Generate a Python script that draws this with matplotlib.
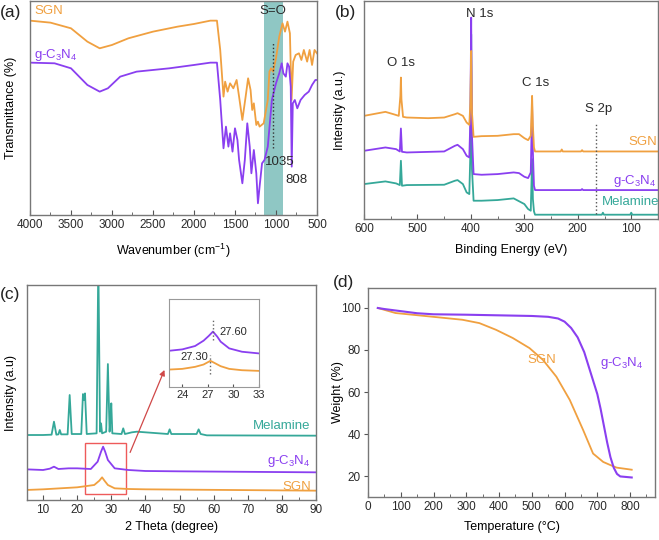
import matplotlib
matplotlib.use('Agg')
import matplotlib.pyplot as plt
from matplotlib.ticker import MultipleLocator

plt.rcParams['font.family'] = ['Liberation Sans', 'DejaVu Sans']
plt.rcParams['mathtext.fontset'] = 'custom'
plt.rcParams['mathtext.rm'] = 'Liberation Sans'
plt.rcParams['font.size'] = 8.5
plt.rcParams['text.color'] = '#2a2a2a'
plt.rcParams['axes.edgecolor'] = '#777777'
plt.rcParams['xtick.color'] = '#555555'
plt.rcParams['ytick.color'] = '#555555'
plt.rcParams['xtick.labelcolor'] = '#2a2a2a'
plt.rcParams['ytick.labelcolor'] = '#2a2a2a'

ORANGE = '#f0a040'
PURPLE = '#8a3ff0'
TEAL = '#35a899'
GCN = r'g-C$\mathregular{_3}$N$\mathregular{_4}$'
LW = 1.3

# (a) FTIR, arbitrary transmittance units
ftir_wn_sgn = [4000, 3750, 3500, 3300, 3150, 3000, 2800, 2500, 2200, 2000,
               1800, 1720, 1680, 1640, 1620, 1590, 1560, 1520, 1480, 1450,
               1410, 1370, 1340, 1310, 1290, 1270, 1240, 1220, 1200, 1150,
               1100, 1080, 1060, 1035, 1000, 960, 920, 890, 860, 830,
               810, 790, 760, 720, 690, 660, 620, 590, 560, 530, 500]
ftir_sgn = [583, 577, 560, 520, 500, 510, 530, 550, 565, 573,
            583, 583, 495, 355, 400, 370, 395, 380, 405, 355,
            285, 355, 410, 375, 315, 335, 270, 280, 265, 275,
            345, 430, 440, 430, 470, 535, 575, 550, 580, 545,
            345, 460, 480, 485, 465, 495, 460, 495, 450, 495, 485]
ftir_wn_gcn = [4000, 3700, 3500, 3300, 3150, 3050, 2900, 2700, 2500, 2300,
               2000, 1800, 1720, 1680, 1640, 1610, 1580, 1560, 1530, 1500,
               1470, 1450, 1410, 1380, 1350, 1320, 1300, 1270, 1240, 1220,
               1200, 1170, 1140, 1100, 1050, 1000, 960, 930, 910, 880,
               860, 840, 820, 808, 795, 770, 740, 700, 650, 600, 560, 520, 500]
ftir_gcn = [457, 455, 440, 390, 370, 380, 415, 430, 435, 440,
            450, 457, 457, 345, 200, 265, 205, 245, 190, 260,
            225, 165, 95, 165, 275, 205, 125, 195, 125, 35,
            85, 155, 165, 205, 345, 395, 425, 455, 425, 415,
            455, 445, 385, 145, 335, 345, 320, 345, 360, 370, 390, 405, 405]

# (b) XPS survey
xps_be_sgn = [600, 560, 545, 535, 532, 531, 530, 527, 520, 480,
              450, 430, 425, 415, 408, 403, 401, 399.5, 398, 395,
              380, 350, 320, 310, 300, 293, 288, 285.5, 284, 282,
              280, 232, 230, 228, 194, 192, 190, 50]
xps_sgn = [310, 322, 315, 310, 370, 425, 360, 307, 305, 303,
           305, 315, 318, 310, 290, 283, 350, 505, 320, 247,
           249, 250, 255, 255, 243, 237, 250, 370, 280, 215,
           203, 203, 209, 203, 203, 207, 203, 203]
xps_be_gcn = [600, 560, 540, 533, 531, 529, 520, 450, 430, 425,
              415, 408, 403, 401, 399.5, 398, 395, 380, 350, 320,
              310, 300, 293, 288, 285.5, 284, 282, 280, 194, 192, 190, 50]
xps_gcn = [205, 215, 210, 203, 272, 202, 200, 203, 220, 223,
           210, 190, 185, 300, 605, 250, 135, 133, 135, 140,
           138, 127, 123, 140, 340, 200, 100, 87, 87, 90, 87, 87]
xps_be_mel = [600, 560, 540, 533, 531, 529, 520, 450, 430, 425,
              415, 408, 403, 401, 399.5, 398, 395, 380, 350, 320,
              300, 293, 288, 285.5, 284, 282, 280, 155, 153, 151,
              102, 100, 98, 50]
xps_mel = [105, 113, 107, 102, 175, 100, 102, 103, 115, 117,
           105, 80, 75, 200, 555, 150, 55, 55, 57, 62,
           45, 30, 25, 180, 60, 23, 13, 13, 19, 13, 13, 19, 13, 13]

# (c) XRD
xrd_tt_mel = [5, 10, 12.5, 13.2, 13.9, 14.5, 14.9, 15.3, 17.2, 17.8,
              18.4, 21.2, 21.7, 22.0, 22.3, 22.8, 25.7, 26.2, 26.7, 27.0,
              27.3, 28.5, 29.0, 29.5, 29.8, 30.0, 30.3, 33.0, 33.5, 34.0,
              36.0, 37.5, 46.6, 47.1, 47.6, 55.0, 55.6, 56.2, 58, 90]
xrd_mel = [195, 195, 196, 235, 196, 197, 210, 197, 197, 315,
           198, 198, 318, 300, 320, 198, 200, 720, 205, 230,
           200, 205, 408, 205, 250, 290, 200, 198, 215, 198,
           203, 205, 198, 212, 198, 198, 212, 198, 194, 193]
xrd_tt_gcn = [5, 10, 12, 13.2, 14.5, 17.5, 20, 24, 26, 27, 27.6, 28.2, 29, 31, 35, 40, 50, 90]
xrd_gcn = [92, 90, 94, 100, 93, 95, 95, 93, 115, 145, 160, 145, 120, 95, 90, 87, 86, 83]
xrd_tt_sgn = [5, 10, 15, 20, 25, 26.5, 27.3, 28, 29, 31, 35, 40, 90]
xrd_sgn = [30, 32, 35, 38, 45, 58, 68, 58, 45, 35, 33, 32, 28]

inset_tt_gcn = [22.5, 24, 25.5, 26.5, 27.1, 27.6, 28.1, 28.5, 29.5, 31, 33]
inset_gcn = [108, 112, 122, 138, 152, 165, 150, 135, 115, 105, 100]
inset_tt_sgn = [22.5, 24, 25.5, 26.5, 27.3, 28.5, 29.5, 31, 33]
inset_sgn = [52, 54, 60, 67, 78, 62, 54, 50, 48]

# (d) TGA
tga_t_gcn = [30, 50, 100, 150, 200, 300, 400, 500, 550, 580, 600, 620,
             640, 660, 680, 700, 710, 720, 730, 740, 750, 760, 770, 805]
tga_gcn = [100, 99.5, 98.5, 97.5, 97, 96.8, 96.5, 96.2, 95.8, 95, 93.5, 90.5,
           86, 79, 69, 59, 52, 44, 36, 29, 24, 21, 19.8, 19.3]
tga_t_sgn = [30, 84, 186, 288, 340, 391, 442, 493, 534, 575, 616, 657,
             687, 718, 740, 759, 805]
tga_sgn = [100, 97.6, 96, 94.4, 92.8, 89.6, 85.7, 80.9, 75.3, 67.3, 56.2, 41.8,
           30.7, 26.7, 25.2, 24.0, 23.0]


def style(ax):
    ax.tick_params(axis='x', which='major', direction='in', length=3.5, pad=3)
    ax.tick_params(axis='x', which='minor', direction='in', length=2)
    for s in ax.spines.values():
        s.set_linewidth(1.0)


def labels(ax, xl, xy, yl, yx):
    ax.set_xlabel(xl, fontsize=9)
    ax.xaxis.set_label_coords(0.5, xy)
    ax.set_ylabel(yl, fontsize=9)
    ax.yaxis.set_label_coords(yx, 0.5)


fig = plt.figure(figsize=(6.59, 5.4), dpi=100)

# ---- (a)
ax = fig.add_axes([0.0455, 0.6019, 0.4355, 0.3963])
ax.axvspan(915, 1150, color='#8fc7c4', lw=0)
ax.plot(ftir_wn_sgn, ftir_sgn, color=ORANGE, lw=LW)
ax.plot(ftir_wn_gcn, ftir_gcn, color=PURPLE, lw=LW)
ax.plot([1035, 1035], [200, 515], ls=':', color='#333333', lw=1.0)
ax.set_xlim(4000, 500)
ax.set_ylim(0, 642)
ax.set_yticks([])
ax.xaxis.set_major_locator(MultipleLocator(500))
ax.xaxis.set_minor_locator(MultipleLocator(250))
style(ax)
ax.text(1035, 612, 'S=O', ha='center', va='center', fontsize=9.5)
ax.text(1140, 160, '1035', ha='left', va='center', fontsize=9.5)
ax.text(890, 105, '808', ha='left', va='center', fontsize=9.5)
ax.text(3950, 612, 'SGN', color=ORANGE, ha='left', va='center', fontsize=9.5)
ax.text(3950, 480, GCN, color=PURPLE, ha='left', va='center', fontsize=9.5)
labels(ax, 'Wavenumber (cm$^{-1}$)', -0.126, 'Transmittance (%)', -0.045)

# ---- (b)
ax = fig.add_axes([0.5524, 0.5944, 0.446, 0.4037])
ax.plot(xps_be_mel, xps_mel, color=TEAL, lw=LW)
ax.plot(xps_be_gcn, xps_gcn, color=PURPLE, lw=LW)
ax.plot(xps_be_sgn, xps_sgn, color=ORANGE, lw=LW)
ax.plot([166, 166], [15, 285], ls=':', color='#555555', lw=1.0)
ax.set_xlim(600, 50)
ax.set_ylim(0, 655)
ax.set_yticks([])
ax.xaxis.set_major_locator(MultipleLocator(100))
ax.xaxis.set_minor_locator(MultipleLocator(50))
style(ax)
ax.text(531, 470, 'O 1s', ha='center', va='center', fontsize=9.5)
ax.text(383, 615, 'N 1s', ha='center', va='center', fontsize=9.5)
ax.text(278, 410, 'C 1s', ha='center', va='center', fontsize=9.5)
ax.text(162, 330, 'S 2p', ha='center', va='center', fontsize=9.5)
ax.text(52, 230, 'SGN', color=ORANGE, ha='right', va='center', fontsize=9.5)
ax.text(52, 115, GCN, color=PURPLE, ha='right', va='center', fontsize=9.5)
ax.text(48, 50, 'Melamine', color=TEAL, ha='right', va='center', fontsize=9.5,
        clip_on=True)
labels(ax, 'Binding Energy (eV)', -0.115, 'Intensity (a.u.)', -0.061)

# ---- (c)
ax = fig.add_axes([0.041, 0.0741, 0.4385, 0.398])
ax.plot(xrd_tt_mel, xrd_mel, color=TEAL, lw=LW)
ax.plot(xrd_tt_gcn, xrd_gcn, color=PURPLE, lw=LW)
ax.plot(xrd_tt_sgn, xrd_sgn, color=ORANGE, lw=LW)
ax.add_patch(plt.Rectangle((22.2, 18), 12.0, 154, fill=False, ec='#ee5a5a', lw=1.0))
ax.annotate('', xy=(45.9, 398), xytext=(35.2, 135),
            arrowprops=dict(arrowstyle='-|>', color='#d04848', lw=0.9, mutation_scale=8))
ax.set_xlim(5.3, 90)
ax.set_ylim(0, 645)
ax.set_yticks([])
ax.xaxis.set_major_locator(MultipleLocator(10))
ax.xaxis.set_minor_locator(MultipleLocator(5))
style(ax)
ax.text(88.5, 222, 'Melamine', color=TEAL, ha='right', va='center', fontsize=9.5)
ax.text(88.5, 118, GCN, color=PURPLE, ha='right', va='center', fontsize=9.5)
ax.text(88.5, 40, 'SGN', color=ORANGE, ha='right', va='center', fontsize=9.5)
labels(ax, '2 Theta (degree)', -0.098, 'Intensity (a.u)', -0.035)

axi = fig.add_axes([0.2565, 0.2833, 0.1366, 0.163])
axi.plot(inset_tt_gcn, inset_gcn, color=PURPLE, lw=LW)
axi.plot(inset_tt_sgn, inset_sgn, color=ORANGE, lw=LW)
axi.plot([27.6, 27.6], [140, 205], ls=':', color='#666666', lw=1.0)
axi.plot([27.3, 27.3], [40, 95], ls=':', color='#666666', lw=1.0)
axi.set_xlim(22.45, 33)
axi.set_ylim(0, 262)
axi.set_yticks([])
axi.set_xticks([24, 27, 30, 33])
axi.tick_params(axis='x', direction='in', length=2.5, pad=2, labelsize=8)
for s in axi.spines.values():
    s.set_edgecolor('#999999')
axi.text(28.3, 165, '27.60', ha='left', va='center', fontsize=8)
axi.text(27.0, 88, '27.30', ha='right', va='center', fontsize=8)

# ---- (d)
ax = fig.add_axes([0.5584, 0.0796, 0.4355, 0.387])
ax.plot(tga_t_sgn, tga_sgn, color=ORANGE, lw=LW)
ax.plot(tga_t_gcn, tga_gcn, color=PURPLE, lw=LW + 0.2)
ax.set_xlim(0, 876)
ax.set_ylim(10, 109.5)
ax.xaxis.set_major_locator(MultipleLocator(100))
ax.xaxis.set_minor_locator(MultipleLocator(50))
ax.set_yticks([20, 40, 60, 80, 100])
ax.tick_params(axis='y', direction='out', length=3, pad=2)
style(ax)
ax.text(488, 75.3, 'SGN', color=ORANGE, ha='left', va='center', fontsize=9.5)
ax.text(708, 73.7, GCN, color=PURPLE, ha='left', va='center', fontsize=9.5)
labels(ax, 'Temperature (°C)', -0.115, 'Weight (%)', -0.084)

for lbl, x, y in [('(a)', 0.0, 13), ('(b)', 0.508, 13), ('(c)', 0.0, 295), ('(d)', 0.505, 283)]:
    fig.text(x, 1 - y / 540, lbl, fontsize=12.5, ha='left', va='center', color='#222222')

fig.savefig('out.png', dpi=100)
